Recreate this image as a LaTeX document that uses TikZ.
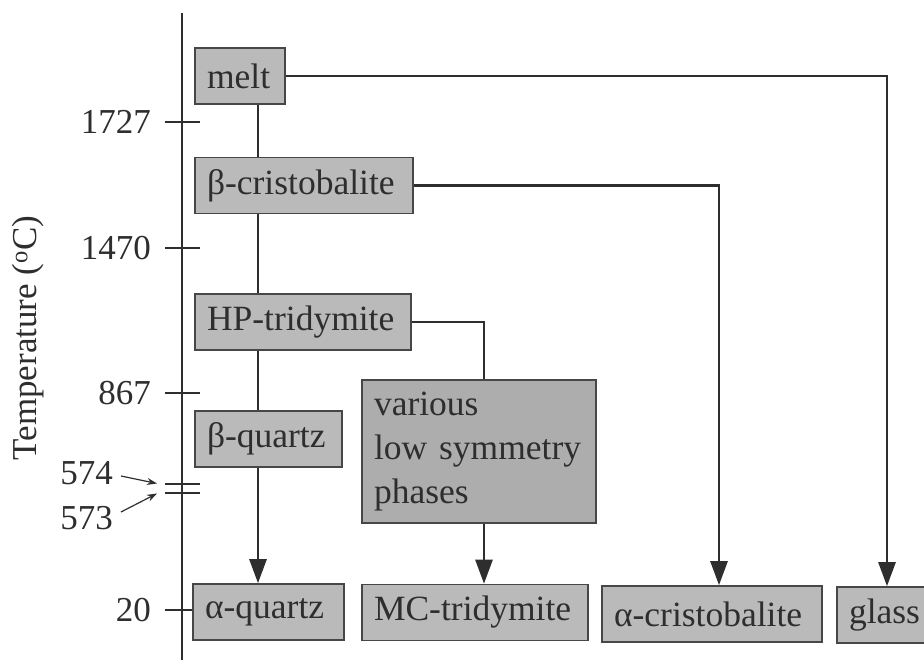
\documentclass[tikz,border=0pt]{standalone}
\usepackage{fontspec}
\setmainfont{Liberation Serif}
\usetikzlibrary{arrows.meta,calc}
\definecolor{boxfill}{gray}{0.73}
\definecolor{varfill}{gray}{0.68}
\definecolor{boxline}{gray}{0.28}
\definecolor{ink}{gray}{0.18}
\begin{document}
\begin{tikzpicture}[x=1pt,y=-1pt,
  phase/.style={draw=boxline, fill=boxfill, line width=1.6pt, inner xsep=12pt, inner ysep=0pt,
    minimum height=56pt, align=left, text=ink, font=\fontsize{35.5}{44}\selectfont},
  conn/.style={draw=ink, line width=2.6pt},
  arr/.style={conn, -{Triangle[width=17pt,length=24pt]}},
  tick/.style={draw=ink, line width=1.4pt},
  lab/.style={text=ink, inner sep=0pt, font=\fontsize{35}{44}\selectfont}]
\clip (0,0) rectangle (924,660);
\fill[white] (0,0) rectangle (924,660);

% axis
\coordinate (atop) at (182,13);
\coordinate (abot) at (182,662);
\draw[tick] (atop) -- (abot);
\foreach \y/\t/\n in {122/1727/t1, 248/1470/t2, 393/867/t3, 610/20/t4}{
  \coordinate (\n a) at (165,\y);
  \coordinate (\n b) at (200,\y);
  \draw[tick] (\n a) -- (\n b);
  \node[lab, anchor=east] (\n l) at (151,\y) {\t};
}
\coordinate (d1a) at (165,484); \coordinate (d1b) at (200,484);
\coordinate (d2a) at (165,493); \coordinate (d2b) at (200,493);
\draw[tick] (d1a) -- (d1b);
\draw[tick] (d2a) -- (d2b);
\node[lab, anchor=east] (l574) at (113,473) {574};
\node[lab, anchor=east] (l573) at (113,518) {573};
\coordinate (p574) at (157,483.5);
\coordinate (p573) at (157,493.5);
\draw[tick, line width=1.2pt, -{Stealth[length=10pt,width=7pt]}] ($(l574.east)+(8,3)$) -- (p574);
\draw[tick, line width=1.2pt, -{Stealth[length=10pt,width=7pt]}] ($(l573.east)+(8,-6)$) -- (p573);
\node[lab, rotate=90] (tlab) at (28,338) {Temperature (\textsuperscript{o}C)};

% boxes
\node[phase, text width=66pt]  (melt) at (240,76) {melt};
\node[phase, text width=194pt] (bcr)  at (304,185.5) {β-cristobalite};
\node[phase, text width=192pt] (hpt)  at (303,322) {HP-tridymite};
\node[phase, text width=123pt] (bq)   at (268.5,439) {β-quartz};
\node[phase, text width=127pt] (aq)   at (268.5,612) {α-quartz};
\node[phase, text width=202pt] (mct)  at (475,612.5) {MC-tridymite};
\node[phase, fill=varfill, text width=210pt, minimum height=143pt] (var) at (479,451.5) {various\\low symmetry\\phases};
\node[phase, text width=196pt] (acr)  at (712,614) {α-cristobalite};
\node[phase, text width=76pt]  (gl)   at (887,615) {glass};

% connectors
\coordinate (cx) at (258,0);
\coordinate (mx) at (484,0);
\coordinate (cr) at (719,0);
\coordinate (gx) at (887,0);
\draw[conn] (melt.south -| cx) -- (bcr.north -| cx);
\draw[conn] (bcr.south -| cx) -- (hpt.north -| cx);
\draw[conn] (hpt.south -| cx) -- (bq.north -| cx);
\draw[arr] (bq.south -| cx) -- (aq.north -| cx);
\draw[conn] (hpt.east) -| (var.north -| mx);
\draw[arr] (var.south -| mx) -- (mct.north -| mx);
\draw[arr] (bcr.east) -| (acr.north -| cr);
\draw[arr] (melt.east) -| (gl.north -| gx);
\end{tikzpicture}
\end{document}
